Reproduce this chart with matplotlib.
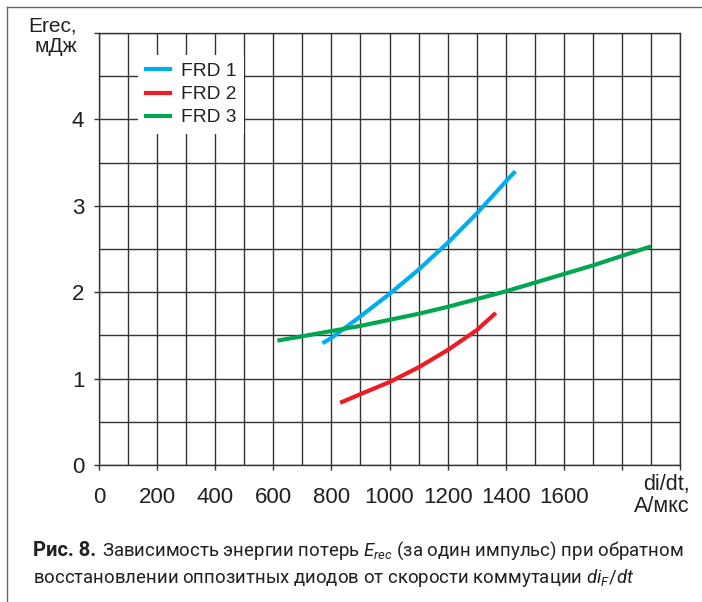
import matplotlib
matplotlib.use('Agg')
import matplotlib.pyplot as plt
from matplotlib import font_manager
from matplotlib.lines import Line2D

# data
frd1_x = [769, 800, 900, 1000, 1100, 1200, 1300, 1400, 1433]
frd1_y = [1.41, 1.47, 1.72, 1.98, 2.26, 2.57, 2.91, 3.28, 3.40]
frd2_x = [830, 900, 1000, 1100, 1200, 1300, 1366]
frd2_y = [0.72, 0.82, 0.96, 1.13, 1.33, 1.56, 1.76]
frd3_x = [614, 700, 800, 900, 1000, 1100, 1200, 1300, 1400, 1500, 1600, 1700, 1800, 1900]
frd3_y = [1.44, 1.49, 1.55, 1.61, 1.68, 1.75, 1.83, 1.92, 2.01, 2.11, 2.21, 2.31, 2.42, 2.53]
series_names = ['FRD 1', 'FRD 2', 'FRD 3']
x_ticks = list(range(0, 2001, 200))
x_labels = ['0', '200', '400', '600', '800', '1000', '1200', '1400', '1600', '', '']
y_ticks = [0, 1, 2, 3, 4, 5]
y_labels = ['0', '1', '2', '3', '4', '']

names = {f.name for f in font_manager.fontManager.ttflist}
base = 'Liberation Sans' if 'Liberation Sans' in names else 'DejaVu Sans'
cap_font = 'Liberation Sans Narrow' if 'Liberation Sans Narrow' in names else 'Roboto'

plt.rcParams['font.family'] = [base, 'DejaVu Sans']
plt.rcParams['mathtext.fontset'] = 'custom'
plt.rcParams['mathtext.rm'] = cap_font
plt.rcParams['mathtext.it'] = cap_font + ':italic'

grid_c = '#333333'
txt_c = '#231f20'
fig = plt.figure(figsize=(7.02, 6.02), dpi=100)
W, H = 702, 602
ax = fig.add_axes([99 / W, 1 - 465 / H, 581 / W, 432 / H])

ax.plot(frd1_x, frd1_y, color='#00AEEF', lw=3, solid_capstyle='butt', zorder=3)
ax.plot(frd2_x, frd2_y, color='#ED1C24', lw=3, solid_capstyle='butt', zorder=3)
ax.plot(frd3_x, frd3_y, color='#00A651', lw=3, solid_capstyle='butt', zorder=3)

ax.set_xlim(0, 2000)
ax.set_ylim(0, 5)
ax.set_xticks(x_ticks)
ax.set_xticklabels(x_labels)
ax.set_xticks(range(100, 2000, 200), minor=True)
ax.set_yticks(y_ticks)
ax.set_yticklabels(y_labels)
ax.set_yticks([0.5, 1.5, 2.5, 3.5, 4.5], minor=True)
ax.tick_params(which='major', direction='out', length=3.6, width=1, color=grid_c,
               labelsize=16, labelcolor=txt_c)
ax.tick_params(axis='x', which='major', pad=12)
ax.tick_params(axis='y', which='major', pad=7)
ax.tick_params(which='minor', length=0)
ax.grid(True, which='both', color=grid_c, lw=1.0, zorder=1)
for s in ax.spines.values():
    s.set_color(grid_c)
    s.set_linewidth(1.0)

handles = [Line2D([], [], color=c, lw=3) for c in ['#00AEEF', '#ED1C24', '#00A651']]
leg = ax.legend(handles, series_names, loc='upper left',
                bbox_to_anchor=(138 / W, 1 - 55 / H), bbox_transform=fig.transFigure,
                fontsize=13.8, frameon=True, fancybox=False, edgecolor='none',
                facecolor='white', framealpha=1, handlelength=1.25, handletextpad=0.6,
                labelspacing=0.3, borderpad=0.4, borderaxespad=0)
for t in leg.get_texts():
    t.set_color(txt_c)
leg.set_zorder(4)

fig.text(77 / W, 1 - 16 / H, 'Erec,\nмДж', ha='right', va='top', fontsize=15,
         linespacing=1.1, color=txt_c)
fig.text(690 / W, 1 - 474 / H, 'di/dt,\nА/мкс', ha='right', va='top', fontsize=15.5,
         linespacing=1.05, multialignment='right', color=txt_c)

# border lines (top and left)
fig.add_artist(Line2D([7 / W, 1], [1 - 7 / H, 1 - 7 / H], transform=fig.transFigure,
                      color='#666666', lw=1))
fig.add_artist(Line2D([7 / W, 7 / W], [0, 1 - 7 / H], transform=fig.transFigure,
                      color='#666666', lw=1))

# caption
fig.canvas.draw()
r = fig.canvas.get_renderer()
cap_size = 13.4
t_bold = fig.text(33 / W, 1 - 556 / H, 'Рис. 8.', fontsize=14.5, weight='bold',
                  family=cap_font, va='baseline', color=txt_c)
bb = t_bold.get_window_extent(r)
fig.text((bb.x1 + 6) / W, 1 - 556 / H,
         'Зависимость энергии потерь $E_{rec}$ (за один импульс) при обратном',
         fontsize=cap_size, family=cap_font, va='baseline', color=txt_c)
fig.text(33 / W, 1 - 583 / H,
         'восстановлении оппозитных диодов от скорости коммутации $di_F/dt$',
         fontsize=cap_size, family=cap_font, va='baseline', color=txt_c)

fig.savefig('out.png', dpi=100)
